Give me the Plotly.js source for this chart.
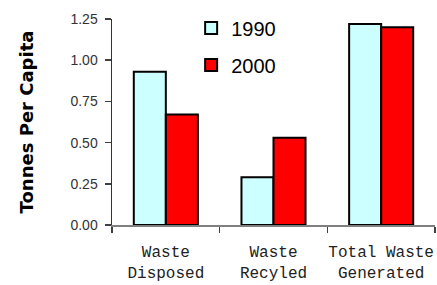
<!DOCTYPE html>
<html>
<head>
<meta charset="utf-8">
<script src="https://cdn.plot.ly/plotly-3.0.1.min.js"></script>
<style>html,body{margin:0;padding:0;background:#fff;}#chart{width:437px;height:285px;}</style>
</head>
<body>
<div id="chart"></div>
<script>
var categories = ["Waste<br>Disposed", "Waste<br>Recyled", "Total Waste<br>Generated"];
var series1990 = [0.93, 0.29, 1.22];
var series2000 = [0.67, 0.53, 1.20];
var seriesNames = ["1990", "2000"];
var yTickVals = [0, 0.25, 0.5, 0.75, 1.0, 1.25];

var traces = [
  {type: "bar", name: seriesNames[0], x: categories, y: series1990, legendgroup: "a",
   marker: {color: "#CCFFFF", line: {color: "#000", width: 2}}},
  {type: "bar", name: seriesNames[1], x: categories, y: series2000, legendgroup: "b",
   marker: {color: "#FF0000", line: {color: "#000", width: 2}}}
];

var layout = {
  width: 437, height: 285,
  margin: {l: 112, r: 2, t: 19, b: 60},
  paper_bgcolor: "#fff", plot_bgcolor: "#fff",
  barmode: "group", bargap: 0.405, bargroupgap: 0,
  showlegend: true,
  legend: {x: 0.245, y: 1.051, xanchor: "left", yanchor: "top", traceorder: "grouped",
           tracegroupgap: 8, font: {family: "Liberation Sans, Arial, sans-serif", size: 20, color: "#000"},
           bgcolor: "rgba(0,0,0,0)"},
  xaxis: {type: "category", showgrid: false, zeroline: false, tickangle: 0,
          showline: true, linecolor: "#808080", linewidth: 2,
          ticks: "outside", tickson: "boundaries", ticklen: 6, tickcolor: "#404040", tickwidth: 1.5,
          ticklabelstandoff: 11,
          tickfont: {family: "Liberation Mono, Courier New, monospace", size: 16, color: "#222"}},
  yaxis: {range: [0, 1.25], tickvals: yTickVals, tickformat: ".2f", showgrid: false, zeroline: false,
          showline: true, linecolor: "#333", linewidth: 1.5,
          ticks: "outside", ticklen: 6, tickcolor: "#404040", tickwidth: 1.5, ticklabelstandoff: 4,
          tickfont: {family: "Liberation Sans, Arial, sans-serif", size: 14, color: "#333"},
          title: {text: "Tonnes Per Capita", standoff: 32,
                  font: {family: "DejaVu Sans, sans-serif", size: 18, color: "#000", weight: "bold"}}}
};

Plotly.newPlot("chart", traces, layout, {displayModeBar: false, staticPlot: true});
</script>
</body>
</html>
